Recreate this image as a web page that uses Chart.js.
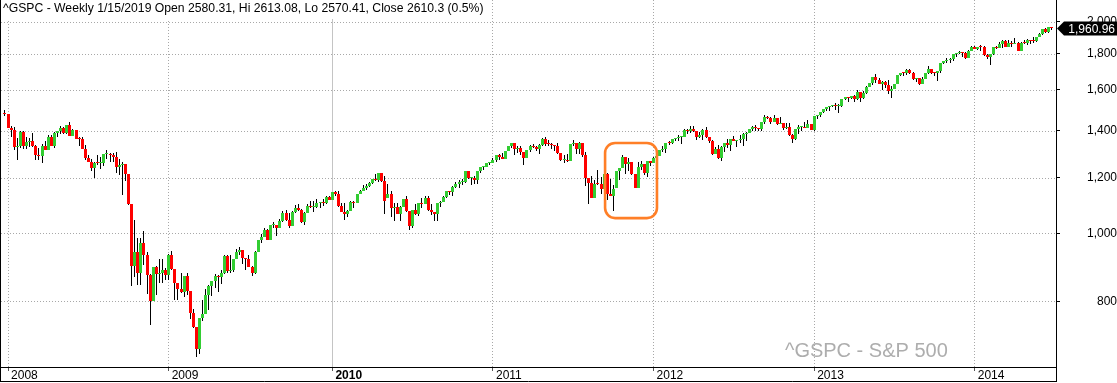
<!DOCTYPE html>
<html><head><meta charset="utf-8">
<script src="https://cdn.jsdelivr.net/npm/chart.js"></script>
<style>html,body{margin:0;padding:0;background:#fff;overflow:hidden}canvas{display:block}</style>
</head><body>
<canvas id="c" width="1117" height="383"></canvas>
<script>
// Weekly S&P 500 candles, first week starting 2007-12-24, one entry per week
const opens = [
1484.5,1478.5,1411.9,1401.0,1325.2,1330.6,1395.4,1331.3,1350.0,1353.1,
1330.6,1293.4,1288.1,1329.5,1315.2,1370.4,1332.8,1390.3,1397.8,1413.9,
1388.3,1425.4,1375.9,1400.4,1360.7,1360.0,1317.9,1278.4,1262.9,1239.5,
1260.7,1257.8,1260.3,1296.3,1298.2,1292.2,1282.8,1242.3,1251.7,1255.1,
1213.3,1099.2,899.2,940.6,876.8,968.8,931.0,873.3,800.0,896.2,
876.1,879.1,887.9,872.8,931.8,890.4,850.1,832.0,825.9,868.6,
826.8,770.1,735.1,683.4,756.6,768.5,815.9,842.5,856.6,869.6,
866.2,877.5,929.2,882.9,887.0,919.1,940.1,946.2,921.2,918.9,
896.4,879.1,940.4,979.3,987.5,1010.5,979.7,1026.1,1028.9,1016.4,
1042.7,1068.3,1044.4,1025.2,1071.5,1087.7,1079.6,1036.2,1069.3,1093.5,
1091.4,1091.5,1106.0,1106.4,1102.5,1126.5,1115.1,1145.0,1136.0,1091.8,
1073.9,1066.2,1075.5,1109.2,1104.5,1138.7,1150.0,1159.9,1166.6,1178.1,
1194.4,1192.1,1217.3,1186.7,1122.0,1135.7,1087.7,1089.4,1064.9,1091.6,
1117.5,1076.8,1022.6,1078.0,1064.9,1102.7,1101.6,1121.6,1079.3,1071.7,
1064.6,1104.5,1109.6,1125.6,1148.7,1146.2,1165.2,1176.2,1183.1,1183.3,
1225.9,1199.2,1199.7,1189.4,1224.7,1240.4,1243.9,1256.8,1257.6,1271.5,
1293.2,1283.4,1276.3,1310.9,1329.2,1343.0,1319.9,1321.2,1304.3,1279.2,
1313.8,1332.4,1328.2,1319.7,1337.4,1363.6,1340.2,1337.8,1333.3,1331.1,
1300.2,1271.0,1271.5,1268.5,1339.7,1343.8,1316.1,1345.0,1292.3,1199.4,
1178.8,1123.5,1176.8,1174.0,1154.2,1216.0,1136.4,1131.4,1158.0,1224.6,
1238.3,1285.1,1253.2,1263.9,1215.7,1158.7,1244.3,1255.2,1219.7,1265.3,
1257.6,1277.8,1289.1,1315.4,1316.3,1344.9,1342.6,1361.2,1365.7,1369.6,
1370.9,1404.2,1397.1,1408.5,1398.1,1370.3,1378.5,1403.4,1369.1,1353.4,
1295.2,1317.8,1278.0,1325.7,1342.8,1335.0,1362.2,1354.7,1356.8,1362.7,
1386.0,1391.0,1405.9,1418.2,1411.1,1406.6,1437.9,1465.8,1460.2,1440.7,
1460.9,1428.6,1433.2,1411.9,1414.2,1379.9,1359.9,1409.2,1416.2,1418.1,
1413.6,1430.2,1402.4,1466.5,1472.1,1486.0,1503.0,1513.2,1517.9,1519.8,
1515.6,1518.2,1551.2,1560.7,1556.9,1569.2,1553.3,1588.9,1555.3,1582.2,
1614.4,1633.7,1667.5,1649.6,1630.7,1643.4,1626.7,1592.4,1606.3,1631.9,
1680.2,1692.1,1691.7,1709.7,1691.4,1655.8,1663.5,1633.0,1655.2,1688.0,
1709.9,1691.8,1690.5,1703.2,1744.5,1759.8,1761.6,1770.6,1798.2,1804.8,
1805.8,1805.1,1775.3,1818.3,1841.4,1831.4,1842.4,1838.7,1790.3,1782.6,
1797.0,1838.6,1836.3,1859.5,1878.0,1841.1,1866.5,1857.6,1865.1,1815.7,
1864.9,1863.4,1881.1,1878.5,1877.9,1900.5,1923.6,1949.4,1936.2,1962.9
];
const highs = [
1498,1479,1420,1417,1368,1396,1396,1370,1368,1388,
1335,1321,1341,1352,1381,1378,1395,1400,1422,1415,
1426,1440,1406,1404,1370,1370,1335,1292,1277,1262,
1291,1284,1297,1313,1300,1300,1303,1274,1265,1256,
1214,1100,1044,985,984,1007,939,875,896,897,
919,918,892,934,944,891,851,878,870,877,
827,780,736,758,803,832,845,856,875,871,
888,930,930,930,920,951,956,946,922,930,
898,943,979,996,1018,1013,1027,1039,1029,1049,
1074,1080,1069,1075,1096,1101,1081,1072,1101,1113,
1112,1119,1108,1119,1128,1130,1145,1150,1150,1105,
1104,1080,1112,1112,1139,1151,1170,1174,1182,1195,
1214,1217,1220,1205,1174,1148,1104,1105,1092,1119,
1131,1077,1078,1099,1103,1121,1128,1129,1100,1073,
1105,1110,1131,1148,1150,1167,1184,1190,1196,1227,
1227,1203,1205,1225,1241,1246,1259,1262,1278,1293,
1296,1302,1311,1330,1344,1343,1332,1330,1305,1315,
1337,1339,1329,1338,1364,1371,1359,1346,1333,1345,
1301,1292,1298,1341,1356,1344,1347,1345,1307,1200,
1208,1190,1231,1204,1220,1220,1195,1171,1225,1239,
1293,1285,1278,1264,1216,1264,1267,1256,1265,1268,
1285,1296,1315,1333,1345,1354,1363,1368,1378,1372,
1406,1409,1419,1422,1399,1393,1406,1415,1370,1356,
1328,1335,1329,1343,1363,1362,1375,1357,1380,1390,
1394,1408,1419,1427,1413,1438,1475,1467,1463,1471,
1461,1464,1434,1434,1433,1384,1409,1424,1423,1438,
1448,1431,1467,1472,1486,1503,1514,1518,1524,1531,
1525,1552,1564,1561,1570,1573,1597,1589,1592,1618,
1634,1667,1687,1661,1646,1649,1654,1620,1632,1680,
1693,1698,1710,1710,1696,1664,1664,1671,1689,1730,
1711,1696,1704,1745,1760,1775,1774,1798,1805,1814,
1810,1811,1823,1844,1849,1843,1851,1844,1798,1798,
1841,1846,1868,1883,1882,1884,1875,1897,1872,1869,
1884,1891,1885,1902,1901,1924,1949,1956,1964,1968
];
const lows = [
1468,1411,1370,1312,1270,1322,1316,1320,1327,1328,
1272,1270,1257,1312,1312,1332,1324,1370,1383,1383,
1386,1373,1373,1360,1330,1317,1272,1262,1225,1200,
1250,1234,1247,1274,1261,1263,1217,1212,1133,1187,
1098,840,866,845,845,900,819,741,800,816,
851,850,857,857,888,804,804,821,812,818,
754,734,667,673,751,768,779,814,836,826,
847,875,878,878,881,919,930,903,888,896,
869,875,940,969,987,978,978,1019,991,1016,
1039,1041,1019,1025,1068,1074,1033,1029,1069,1085,
1073,1086,1085,1092,1102,1114,1115,1131,1090,1071,
1045,1056,1075,1086,1104,1137,1147,1152,1164,1176,
1186,1183,1181,1066,1122,1056,1041,1064,1042,1089,
1071,1011,1018,1063,1057,1088,1101,1076,1063,1040,
1041,1091,1108,1122,1135,1131,1159,1159,1171,1180,
1194,1173,1176,1174,1220,1232,1242,1252,1257,1262,
1271,1275,1276,1310,1324,1294,1302,1291,1249,1279,
1305,1322,1309,1295,1333,1329,1333,1318,1311,1297,
1268,1258,1262,1267,1330,1295,1295,1282,1168,1102,
1122,1121,1172,1136,1136,1114,1128,1075,1158,1191,
1238,1215,1226,1209,1158,1158,1231,1209,1202,1248,
1257,1274,1288,1306,1300,1337,1340,1352,1354,1340,
1370,1386,1391,1392,1357,1365,1358,1367,1343,1291,
1295,1277,1267,1306,1324,1310,1353,1325,1345,1329,
1354,1391,1397,1398,1397,1396,1428,1455,1430,1439,
1425,1428,1403,1409,1373,1343,1359,1385,1398,1411,
1413,1401,1398,1456,1465,1485,1495,1495,1514,1497,
1485,1514,1548,1538,1550,1539,1548,1536,1553,1577,
1614,1625,1635,1630,1598,1608,1577,1560,1604,1631,
1674,1676,1681,1684,1654,1639,1627,1633,1655,1687,
1687,1674,1646,1692,1740,1746,1746,1761,1781,1800,
1779,1772,1775,1818,1827,1824,1815,1790,1770,1738,
1791,1826,1832,1834,1839,1841,1839,1857,1814,1815,
1861,1850,1859,1862,1868,1900,1915,1925,1930,1944
];
const closes = [
1478.5,1411.9,1401.0,1325.2,1330.6,1395.4,1331.3,1350.0,1353.1,1330.6,
1293.4,1288.1,1329.5,1315.2,1370.4,1332.8,1390.3,1397.8,1413.9,1388.3,
1425.4,1375.9,1400.4,1360.7,1360.0,1317.9,1278.4,1262.9,1239.5,1260.7,
1257.8,1260.3,1296.3,1298.2,1292.2,1282.8,1242.3,1251.7,1255.1,1213.3,
1099.2,899.2,940.6,876.8,968.8,931.0,873.3,800.0,896.2,876.1,
879.1,887.9,872.8,931.8,890.4,850.1,832.0,825.9,868.6,826.8,
770.1,735.1,683.4,756.6,768.5,815.9,842.5,856.6,869.6,866.2,
877.5,929.2,882.9,887.0,919.1,940.1,946.2,921.2,918.9,896.4,
879.1,940.4,979.3,987.5,1010.5,979.7,1026.1,1028.9,1016.4,1042.7,
1068.3,1044.4,1025.2,1071.5,1087.7,1079.6,1036.2,1069.3,1093.5,1091.4,
1091.5,1106.0,1106.4,1102.5,1126.5,1115.1,1145.0,1136.0,1091.8,1073.9,
1066.2,1075.5,1109.2,1104.5,1138.7,1150.0,1159.9,1166.6,1178.1,1194.4,
1192.1,1217.3,1186.7,1110.9,1135.7,1087.7,1089.4,1064.9,1091.6,1117.5,
1076.8,1022.6,1078.0,1064.9,1102.7,1101.6,1121.6,1079.3,1071.7,1064.6,
1104.5,1109.6,1125.6,1148.7,1146.2,1165.2,1176.2,1183.1,1183.3,1225.9,
1199.2,1199.7,1189.4,1224.7,1240.4,1243.9,1256.8,1257.6,1271.5,1293.2,
1283.4,1276.3,1310.9,1329.2,1343.0,1319.9,1321.2,1304.3,1279.2,1313.8,
1332.4,1328.2,1319.7,1337.4,1363.6,1340.2,1337.8,1333.3,1331.1,1300.2,
1271.0,1271.5,1268.5,1339.7,1343.8,1316.1,1345.0,1292.3,1199.4,1178.8,
1123.5,1176.8,1174.0,1154.2,1216.0,1136.4,1131.4,1155.5,1224.6,1238.3,
1285.1,1253.2,1263.9,1215.7,1158.7,1244.3,1255.2,1219.7,1265.3,1257.6,
1277.8,1289.1,1315.4,1316.3,1344.9,1342.6,1361.2,1365.7,1369.6,1370.9,
1404.2,1397.1,1408.5,1398.1,1370.3,1378.5,1403.4,1369.1,1353.4,1295.2,
1317.8,1278.0,1325.7,1342.8,1335.0,1362.2,1354.7,1356.8,1362.7,1386.0,
1391.0,1405.9,1418.2,1411.1,1406.6,1437.9,1465.8,1460.2,1440.7,1460.9,
1428.6,1433.2,1411.9,1414.2,1379.9,1359.9,1409.2,1416.2,1418.1,1413.6,
1430.2,1402.4,1466.5,1472.1,1486.0,1503.0,1513.2,1517.9,1519.8,1515.6,
1518.2,1551.2,1560.7,1556.9,1569.2,1553.3,1588.9,1555.3,1582.2,1614.4,
1633.7,1667.5,1649.6,1630.7,1643.4,1626.7,1592.4,1606.3,1631.9,1680.2,
1692.1,1691.7,1709.7,1691.4,1655.8,1663.5,1633.0,1655.2,1688.0,1709.9,
1691.8,1690.5,1703.2,1744.5,1759.8,1761.6,1770.6,1798.2,1804.8,1805.8,
1805.1,1775.3,1818.3,1841.4,1831.4,1842.4,1838.7,1790.3,1782.6,1797.0,
1838.6,1836.3,1859.5,1878.0,1841.1,1866.5,1857.6,1865.1,1815.7,1864.9,
1863.4,1881.1,1878.5,1877.9,1900.5,1923.6,1949.4,1936.2,1962.9,1960.96
];
const yearLabels = ['2008','2009','2010','2011','2012','2013','2014'];
const yearTickWeeks = [1, 53, 106, 158, 210, 262, 314];
const boldYearLabels = ['2010'];
const priceTicks = [800, 1000, 1200, 1400, 1600, 1800, 2000];
const titleText = '^GSPC - Weekly 1/15/2019 Open 2580.31, Hi 2613.08, Lo 2570.41, Close 2610.3 (0.5%)';
const watermarkText = '^GSPC - S&P 500';
const highlightWeeks = [194.3, 211.1];
const highlightPrices = [1051, 1344];

const FONT = '"Liberation Sans", Arial, sans-serif';
const UP = '#32cd32', DOWN = '#ff0000';
const GRID = '#a8a8a8', SOLIDGRID = '#c4c4c4';
Chart.defaults.font.family = FONT;

const idx = closes.map((_, i) => i);
const wickData = idx.map(i => ({x: i, y: [lows[i], highs[i]]}));
const bodyData = idx.map(i => ({x: i, y: [opens[i], closes[i]]}));
const bodyColors = idx.map(i => closes[i] >= opens[i] ? UP : DOWN);

const crisp = {
  id: 'crisp',
  beforeDatasetsDraw(chart) {
    chart.data.datasets.forEach((ds, di) => {
      chart.getDatasetMeta(di).data.forEach(el => {
        el.x = Math.floor(el.x) + 0.5;
        el.width = ds.candleWidth;
        el.y = Math.round(el.y);
        el.base = Math.round(el.base);
        if (el.y === el.base) el.y = el.base - 1;
      });
    });
  }
};

const backdrop = {
  id: 'backdrop',
  beforeDatasetsDraw(chart) {
    const {ctx, chartArea: a, scales: {x, y}} = chart;
    ctx.save();
    ctx.beginPath(); ctx.rect(a.left, a.top, a.right - a.left, a.bottom - a.top); ctx.clip();
    ctx.lineWidth = 1;
    ctx.strokeStyle = GRID; ctx.setLineDash([1, 2]);
    priceTicks.forEach(v => {
      const py = Math.round(y.getPixelForValue(v)) + 0.5;
      ctx.beginPath(); ctx.moveTo(a.left, py); ctx.lineTo(a.right, py); ctx.stroke();
    });
    yearTickWeeks.forEach((w, i) => {
      const px = Math.floor(x.getPixelForValue(w)) + 0.5;
      const solid = boldYearLabels.includes(yearLabels[i]);
      ctx.setLineDash(solid ? [] : [1, 2]);
      ctx.strokeStyle = solid ? SOLIDGRID : GRID;
      ctx.beginPath(); ctx.moveTo(px, a.top); ctx.lineTo(px, a.bottom); ctx.stroke();
    });
    ctx.setLineDash([]);
    ctx.font = '20px ' + FONT; ctx.fillStyle = '#adadad';
    ctx.textAlign = 'left'; ctx.textBaseline = 'alphabetic';
    ctx.fillText(watermarkText, a.right - 271, a.bottom - 10);
    ctx.restore();
  }
};

const overlay = {
  id: 'overlay',
  afterDraw(chart) {
    const {ctx, chartArea: a, scales: {x, y}, width: W, height: H} = chart;
    ctx.save();
    // highlight box
    const x1 = x.getPixelForValue(highlightWeeks[0]), x2 = x.getPixelForValue(highlightWeeks[1]);
    const y1 = y.getPixelForValue(highlightPrices[1]), y2 = y.getPixelForValue(highlightPrices[0]);
    const r = 10;
    ctx.strokeStyle = '#ff7f27'; ctx.lineWidth = 2.6;
    ctx.beginPath();
    ctx.moveTo(x1 + r, y1); ctx.lineTo(x2 - r, y1); ctx.arcTo(x2, y1, x2, y1 + r, r);
    ctx.lineTo(x2, y2 - r); ctx.arcTo(x2, y2, x2 - r, y2, r);
    ctx.lineTo(x1 + r, y2); ctx.arcTo(x1, y2, x1, y2 - r, r);
    ctx.lineTo(x1, y1 + r); ctx.arcTo(x1, y1, x1 + r, y1, r);
    ctx.closePath(); ctx.stroke();
    // title
    ctx.font = '12.2px ' + FONT;
    const tw = ctx.measureText(titleText).width;
    ctx.fillStyle = '#fff'; ctx.fillRect(a.left, 0, tw + 6, 19);
    ctx.fillStyle = '#000'; ctx.textAlign = 'left'; ctx.textBaseline = 'alphabetic';
    ctx.fillText(titleText, 3, 12);
    // frame lines
    ctx.strokeStyle = '#000'; ctx.lineWidth = 1;
    ctx.beginPath(); ctx.moveTo(0.5, 0); ctx.lineTo(0.5, H - 1); ctx.stroke();
    ctx.beginPath(); ctx.moveTo(0, H - 1.5); ctx.lineTo(a.right + 1, H - 1.5); ctx.stroke();
    ctx.beginPath(); ctx.moveTo(a.right + 0.5, a.bottom); ctx.lineTo(a.right + 0.5, H - 1); ctx.stroke();
    // last value marker
    const last = closes[closes.length - 1];
    const py = Math.round(y.getPixelForValue(last)) + 0.5;
    const x0 = a.right + 1;
    ctx.fillStyle = '#000';
    ctx.beginPath();
    ctx.moveTo(x0, py); ctx.lineTo(x0 + 7, py - 7); ctx.lineTo(W, py - 7);
    ctx.lineTo(W, py + 7); ctx.lineTo(x0 + 7, py + 7); ctx.closePath(); ctx.fill();
    ctx.fillStyle = '#fff'; ctx.font = '12px ' + FONT;
    ctx.textAlign = 'right'; ctx.textBaseline = 'middle';
    ctx.fillText(last.toLocaleString('en-US', {minimumFractionDigits: 2, maximumFractionDigits: 2}), W - 2, py + 1);
    ctx.restore();
  }
};

new Chart(document.getElementById('c'), {
  type: 'bar',
  data: {
    datasets: [
      {label: 'body', data: bodyData, backgroundColor: bodyColors, candleWidth: 3, grouped: false,
       order: 0, minBarLength: 1, inflateAmount: 0, borderWidth: 0},
      {label: 'wick', data: wickData, backgroundColor: '#000', candleWidth: 1, grouped: false,
       order: 1, inflateAmount: 0, borderWidth: 0}
    ]
  },
  options: {
    responsive: false, animation: false, devicePixelRatio: 1,
    layout: {padding: {left: 1, top: 0, right: 0, bottom: 1}},
    plugins: {legend: {display: false}, tooltip: {enabled: false}},
    scales: {
      x: {
        type: 'linear', position: 'bottom', min: -1.295, max: 340.3, offset: false, bounds: 'data',
        afterBuildTicks: s => { s.ticks = yearTickWeeks.map(v => ({value: v})); },
        afterFit: s => { s.height = 15; s.paddingLeft = 0; s.paddingRight = 0; s.paddingTop = 0; s.paddingBottom = 0; },
        grid: {drawOnChartArea: false, drawTicks: true, tickLength: 4, tickColor: '#555', offset: false},
        border: {display: true, color: '#000', width: 1},
        ticks: {
          autoSkip: false, maxRotation: 0, minRotation: 0, align: 'start', labelOffset: 3, padding: -3,
          color: '#000',
          font: c => ({family: FONT, size: 12,
            weight: (c.tick && boldYearLabels.includes(yearLabels[yearTickWeeks.indexOf(c.tick.value)])) ? 'bold' : 'normal'}),
          callback: v => yearLabels[yearTickWeeks.indexOf(v)]
        }
      },
      y: {
        type: 'logarithmic', position: 'right', min: 645.3, max: 2147, bounds: 'data',
        afterBuildTicks: s => { s.ticks = priceTicks.map(v => ({value: v})); },
        afterFit: s => { s.width = 61; s.paddingTop = 0; s.paddingBottom = 0; s.paddingLeft = 0; s.paddingRight = 0; },
        grid: {drawOnChartArea: false, drawTicks: true, tickLength: 4, tickColor: '#000'},
        border: {display: true, color: '#000', width: 1},
        ticks: {crossAlign: 'far', padding: 23, color: '#000', font: {family: FONT, size: 12},
          callback: v => Number(v).toLocaleString('en-US')}
      }
    }
  },
  plugins: [backdrop, crisp, overlay]
});
</script>
</body></html>
